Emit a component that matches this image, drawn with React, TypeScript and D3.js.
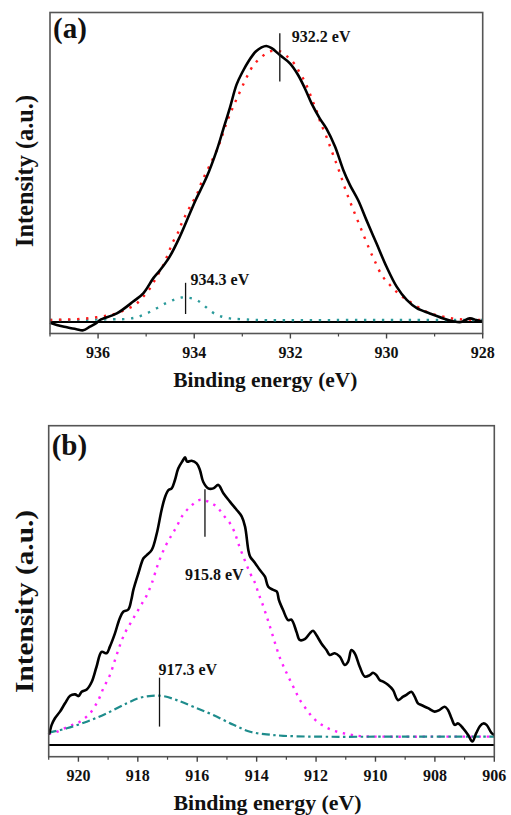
import React from 'react';
import * as d3 from 'd3';

type Pt = [number, number];

// ---------- Panel (a): Cu 2p3/2 ----------
const aMeasured: Pt[] = [
  [937.0, -0.003], [936.86, -0.011], [936.65, -0.019], [936.45, -0.026], [936.31, -0.03], [936.17, -0.017],
  [936.03, -0.003], [935.96, 0.007], [935.61, 0.031], [935.27, 0.074], [935.06, 0.104], [934.85, 0.159],
  [934.71, 0.188], [934.51, 0.237], [934.3, 0.309], [934.09, 0.394], [933.97, 0.442], [933.74, 0.526],
  [933.53, 0.623], [933.4, 0.696], [933.26, 0.775], [933.12, 0.86], [933.0, 0.905], [932.87, 0.945],
  [932.72, 0.98], [932.6, 0.995], [932.5, 1.0], [932.39, 0.992], [932.22, 0.967], [932.01, 0.937],
  [931.84, 0.895], [931.7, 0.847], [931.56, 0.792], [931.39, 0.738], [931.25, 0.701], [931.07, 0.635],
  [930.9, 0.551], [930.76, 0.496], [930.59, 0.441], [930.42, 0.37], [930.21, 0.285], [930.0, 0.2],
  [929.79, 0.128], [929.58, 0.08], [929.37, 0.05], [929.1, 0.031], [928.82, 0.013], [928.6, 0.002],
  [928.45, 0.0], [928.27, 0.013], [928.13, 0.007], [928.0, 0.001],
];
const aFitMain: Pt[] = [
  [937.0, 0.007], [936.38, 0.011], [936.03, 0.017], [935.82, 0.023], [935.61, 0.031], [935.41, 0.046],
  [935.23, 0.062], [935.09, 0.086], [934.92, 0.122], [934.78, 0.164], [934.64, 0.207], [934.54, 0.249],
  [934.44, 0.291], [934.33, 0.327], [934.26, 0.358], [934.16, 0.394], [934.05, 0.43], [933.95, 0.46],
  [933.85, 0.505], [933.7, 0.56], [933.5, 0.635], [933.33, 0.72], [933.19, 0.78], [933.05, 0.834],
  [932.9, 0.89], [932.77, 0.93], [932.63, 0.955], [932.45, 0.979], [932.25, 0.983], [932.08, 0.964],
  [931.91, 0.934], [931.8, 0.901], [931.7, 0.871], [931.61, 0.834], [931.53, 0.798], [931.46, 0.768],
  [931.38, 0.726], [931.25, 0.671], [931.11, 0.605], [930.97, 0.539], [930.83, 0.468], [930.69, 0.406],
  [930.52, 0.333], [930.35, 0.261], [930.24, 0.219], [930.1, 0.17], [929.93, 0.134], [929.72, 0.098],
  [929.52, 0.074], [929.17, 0.037], [928.82, 0.019], [928.54, 0.011], [928.0, 0.007],
];
const aFitSat: Pt[] = [
  [937.0, 0.007], [936.3, 0.008], [935.68, 0.01], [935.41, 0.011], [935.2, 0.017], [934.99, 0.031],
  [934.78, 0.05], [934.57, 0.07], [934.4, 0.082], [934.26, 0.089], [934.12, 0.088], [933.95, 0.08],
  [933.81, 0.062], [933.64, 0.037], [933.47, 0.022], [933.26, 0.013], [932.98, 0.01], [932.63, 0.007],
  [931.0, 0.007], [929.5, 0.007], [928.0, 0.007],
];
const aMajorTicks = [936, 934, 932, 930, 928];
const aMinorTicks = [937, 935, 933, 931, 929];
const aMarkerEnergy = [932.22, 934.18];
const aMarkerTop = [1.046, 0.142];
const aMarkerBottom = [0.871, 0.029];
const aMarkerLabels = ['932.2 eV', '934.3 eV'];

// ---------- Panel (b): Cu LMM ----------
const bMeasured: Pt[] = [
  [921.0, 0.038], [920.98, 0.041], [920.9, 0.07], [920.79, 0.093], [920.62, 0.116], [920.45, 0.145],
  [920.28, 0.171], [920.11, 0.176], [920.0, 0.17], [919.89, 0.185], [919.72, 0.193], [919.55, 0.22],
  [919.39, 0.272], [919.22, 0.324], [919.05, 0.319], [918.94, 0.342], [918.77, 0.388], [918.61, 0.44],
  [918.49, 0.463], [918.32, 0.471], [918.22, 0.504], [918.15, 0.539], [917.98, 0.597], [917.81, 0.649],
  [917.7, 0.66], [917.53, 0.678], [917.36, 0.736], [917.2, 0.817], [917.08, 0.863], [916.97, 0.886],
  [916.86, 0.892], [916.75, 0.921], [916.64, 0.961], [916.49, 0.988], [916.41, 1.0], [916.34, 0.985],
  [916.19, 0.988], [916.02, 0.979], [915.91, 0.956], [915.8, 0.915], [915.63, 0.892], [915.46, 0.892],
  [915.29, 0.904], [915.12, 0.875], [914.9, 0.846], [914.67, 0.817], [914.5, 0.794], [914.39, 0.759],
  [914.28, 0.678], [914.22, 0.655], [914.05, 0.632], [913.89, 0.608], [913.72, 0.585], [913.61, 0.55],
  [913.44, 0.539], [913.32, 0.533], [913.25, 0.504], [913.11, 0.469], [912.94, 0.434], [912.83, 0.436],
  [912.66, 0.394], [912.55, 0.365], [912.38, 0.368], [912.21, 0.388], [912.1, 0.397], [911.99, 0.382],
  [911.82, 0.353], [911.65, 0.33], [911.54, 0.313], [911.37, 0.319], [911.2, 0.307], [911.03, 0.278],
  [910.92, 0.29], [910.81, 0.33], [910.7, 0.319], [910.53, 0.272], [910.36, 0.238], [910.19, 0.243],
  [910.08, 0.251], [909.97, 0.243], [909.86, 0.226], [909.74, 0.22], [909.58, 0.209], [909.41, 0.191],
  [909.24, 0.156], [909.07, 0.168], [908.96, 0.174], [908.79, 0.185], [908.68, 0.168], [908.57, 0.145],
  [908.46, 0.139], [908.23, 0.128], [908.01, 0.116], [907.84, 0.122], [907.67, 0.133], [907.56, 0.122],
  [907.44, 0.093], [907.33, 0.07], [907.22, 0.075], [907.05, 0.058], [906.88, 0.035], [906.74, 0.012],
  [906.61, 0.041], [906.48, 0.066], [906.37, 0.075], [906.26, 0.07], [906.09, 0.041], [906.0, 0.035],
];
const bFitMain: Pt[] = [
  [921.0, 0.039], [920.85, 0.041], [920.34, 0.064], [919.95, 0.081], [919.61, 0.11], [919.33, 0.156],
  [919.16, 0.197], [918.94, 0.243], [918.77, 0.295], [918.6, 0.347], [918.43, 0.39], [918.21, 0.43],
  [918.04, 0.46], [917.87, 0.49], [917.7, 0.52], [917.53, 0.562], [917.31, 0.632], [917.08, 0.689],
  [916.86, 0.73], [916.69, 0.759], [916.52, 0.794], [916.24, 0.828], [915.91, 0.852], [915.63, 0.846],
  [915.34, 0.828], [915.12, 0.799], [914.9, 0.771], [914.73, 0.736], [914.62, 0.701], [914.45, 0.655],
  [914.22, 0.597], [914.05, 0.562], [913.94, 0.527], [913.83, 0.498], [913.66, 0.446], [913.55, 0.411],
  [913.38, 0.354], [913.21, 0.301], [913.04, 0.261], [912.88, 0.226], [912.71, 0.191], [912.54, 0.156],
  [912.31, 0.122], [912.09, 0.093], [911.81, 0.07], [911.47, 0.052], [911.08, 0.041], [910.52, 0.031],
  [909.73, 0.029], [908.0, 0.029], [906.0, 0.029],
];
const bFitSat: Pt[] = [
  [921.0, 0.042], [920.98, 0.043], [920.39, 0.058], [919.72, 0.081], [919.05, 0.11], [918.37, 0.145],
  [917.93, 0.164], [917.53, 0.171], [917.14, 0.17], [916.69, 0.156], [916.13, 0.133], [915.46, 0.104],
  [914.78, 0.07], [914.22, 0.046], [913.66, 0.037], [913.1, 0.032], [911.98, 0.029], [909.0, 0.029],
  [906.0, 0.029],
];
const bMajorTicks = [920, 918, 916, 914, 912, 910, 908, 906];
const bMinorTicks = [921, 919, 917, 915, 913, 911, 909, 907];
const bMarkerEnergy = [915.74, 917.27];
const bMarkerTop = [0.889, 0.234];
const bMarkerBottom = [0.724, 0.064];
const bMarkerLabels = ['915.8 eV', '917.3 eV'];

const axisTitleX = 'Binding energy (eV)';
const axisTitleY = 'Intensity (a.u.)';

const FONT = '"Liberation Serif", "Times New Roman", Times, serif';

interface SeriesSpec {
  data: Pt[];
  color: string;
  width: number;
  dash?: string;
}
interface MarkerLayout {
  dx: number;
  from: 'top' | 'bottom';
  dy: number;
}
interface PanelProps {
  left: number; right: number; top: number; bottom: number;
  xDomain: [number, number];
  yZero: number; yOne: number;
  majors: number[]; minors: number[];
  series: SeriesSpec[];
  markerEnergy: number[]; markerTop: number[]; markerBottom: number[]; markerLabels: string[];
  markerLayout: MarkerLayout[];
  label: string; labelBaseline: number;
  tickBaseline: number;
  xTitleBaseline: number; xTitleCenter: number; xTitleLength: number;
  yTitleCenter: number; yTitleLength: number;
}

function Panel(p: PanelProps) {
  const xs = d3.scaleLinear().domain(p.xDomain).range([p.left, p.right]);
  const ys = d3.scaleLinear().domain([0, 1]).range([p.yZero, p.yOne]);
  const gen = d3
    .line<Pt>()
    .x((d) => xs(d[0]))
    .y((d) => ys(d[1]))
    .curve(d3.curveCatmullRom.alpha(0.5));
  const baseline = d3.line<Pt>().x((d) => xs(d[0])).y((d) => ys(d[1]))([
    [p.xDomain[0], 0],
    [p.xDomain[1], 0],
  ]) as string;
  return (
    <g>
      <path d={baseline} stroke="#000" strokeWidth={2.2} fill="none" />
      {p.series.map((s, i) => (
        <path
          key={i}
          d={gen(s.data) as string}
          fill="none"
          stroke={s.color}
          strokeWidth={s.width}
          strokeDasharray={s.dash}
          strokeLinejoin="round"
        />
      ))}
      {p.markerEnergy.map((e, i) => {
        const x = xs(e);
        const yT = ys(p.markerTop[i]);
        const yB = ys(p.markerBottom[i]);
        const lay = p.markerLayout[i];
        return (
          <g key={i}>
            <line x1={x} x2={x} y1={yT} y2={yB} stroke="#111" strokeWidth={1.3} />
            <text
              x={x + lay.dx}
              y={(lay.from === 'top' ? yT : yB) + lay.dy}
              fontFamily={FONT}
              fontWeight="bold"
              fontSize={16}
              fill="#111"
            >
              {p.markerLabels[i]}
            </text>
          </g>
        );
      })}
      <rect
        x={p.left}
        y={p.top}
        width={p.right - p.left}
        height={p.bottom - p.top}
        fill="none"
        stroke="#555"
        strokeWidth={1.6}
      />
      {p.majors.map((t) => (
        <g key={'M' + t}>
          <line x1={xs(t)} x2={xs(t)} y1={p.bottom} y2={p.bottom + 5} stroke="#444" strokeWidth={1.4} />
          <text
            x={xs(t)}
            y={p.tickBaseline}
            textAnchor="middle"
            fontFamily={FONT}
            fontWeight="bold"
            fontSize={16}
            fill="#111"
          >
            {t}
          </text>
        </g>
      ))}
      {p.minors.map((t) => (
        <line key={'m' + t} x1={xs(t)} x2={xs(t)} y1={p.bottom} y2={p.bottom + 3} stroke="#444" strokeWidth={1.2} />
      ))}
      <text x={p.left + 3} y={p.labelBaseline} fontFamily={FONT} fontWeight="bold" fontSize={29} fill="#111">
        {p.label}
      </text>
      <text
        x={p.xTitleCenter}
        y={p.xTitleBaseline}
        textAnchor="middle"
        fontFamily={FONT}
        fontWeight="bold"
        fontSize={21}
        textLength={p.xTitleLength}
        lengthAdjust="spacingAndGlyphs"
        fill="#111"
      >
        {axisTitleX}
      </text>
      <text
        transform={`translate(33, ${p.yTitleCenter}) rotate(-90)`}
        textAnchor="middle"
        fontFamily={FONT}
        fontWeight="bold"
        fontSize={25}
        textLength={p.yTitleLength}
        lengthAdjust="spacingAndGlyphs"
        fill="#111"
      >
        {axisTitleY}
      </text>
    </g>
  );
}

export default function App() {
  return (
    <svg
      width={511}
      height={815}
      viewBox="0 0 511 815"
      style={{ position: 'absolute', left: 0, top: 0, background: '#fff' }}
    >
      <rect x={0} y={0} width={511} height={815} fill="#fff" />
      <Panel
        left={50}
        right={482.7}
        top={12.5}
        bottom={333.5}
        xDomain={[937, 928]}
        yZero={322}
        yOne={46}
        majors={aMajorTicks}
        minors={aMinorTicks}
        series={[
          { data: aFitSat, color: '#2a9a9a', width: 2.4, dash: '2.4 6.6' },
          { data: aFitMain, color: '#ff1a1a', width: 2.4, dash: '2.4 6.6' },
          { data: aMeasured, color: '#000', width: 2.6 },
        ]}
        markerEnergy={aMarkerEnergy}
        markerTop={aMarkerTop}
        markerBottom={aMarkerBottom}
        markerLabels={aMarkerLabels}
        markerLayout={[
          { dx: 12, from: 'top', dy: 8.4 },
          { dx: 5, from: 'top', dy: 2.3 },
        ]}
        label="(a)"
        labelBaseline={38}
        tickBaseline={358}
        xTitleBaseline={387}
        xTitleCenter={265.3}
        xTitleLength={184}
        yTitleCenter={171}
        yTitleLength={152}
      />
      <Panel
        left={48.7}
        right={494.3}
        top={425.7}
        bottom={756.7}
        xDomain={[921, 906]}
        yZero={745}
        yOne={457.3}
        majors={bMajorTicks}
        minors={bMinorTicks}
        series={[
          { data: bFitMain, color: '#ff22ff', width: 2.4, dash: '2.4 5.6' },
          { data: bFitSat, color: '#1e8c8c', width: 2.2, dash: '8 3.5 2.5 3.5' },
          { data: bMeasured, color: '#000', width: 2.6 },
        ]}
        markerEnergy={bMarkerEnergy}
        markerTop={bMarkerTop}
        markerBottom={bMarkerBottom}
        markerLabels={bMarkerLabels}
        markerLayout={[
          { dx: -20, from: 'bottom', dy: 43.3 },
          { dx: -1, from: 'top', dy: -2.7 },
        ]}
        label="(b)"
        labelBaseline={454.5}
        tickBaseline={781}
        xTitleBaseline={810}
        xTitleCenter={267.5}
        xTitleLength={188}
        yTitleCenter={601.5}
        yTitleLength={183}
      />
    </svg>
  );
}
